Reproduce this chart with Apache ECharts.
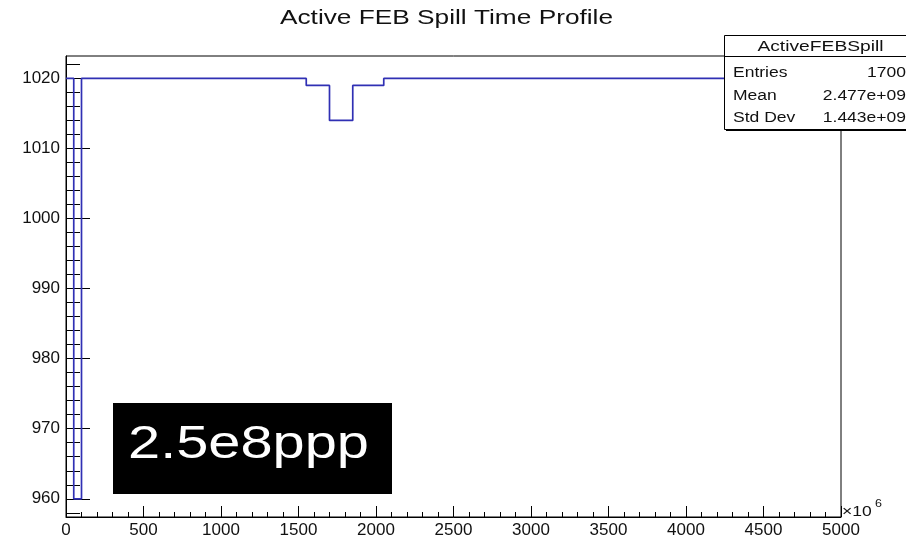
<!DOCTYPE html>
<html>
<head>
<meta charset="utf-8">
<script src="https://cdn.jsdelivr.net/npm/echarts@6/dist/echarts.min.js"></script>
<style>
  html, body { margin: 0; padding: 0; background: #fff; }
  #chart { width: 906px; height: 543px; }
</style>
</head>
<body>
<div id="chart"></div>
<script>
// Profile of active FEB count per spill time bin (x in units of 1e6)
const chartTitle = 'Active FEB Spill Time Profile';
const histName = 'ActiveFEBSpill';
const binStart = 0;
const binWidth = 50;
const binValues = [
  1020, 960, 1020, 1020, 1020, 1020, 1020, 1020, 1020, 1020,
  1020, 1020, 1020, 1020, 1020, 1020, 1020, 1020, 1020, 1020,
  1020, 1020, 1020, 1020, 1020, 1020, 1020, 1020, 1020, 1020,
  1020, 1019, 1019, 1019, 1014, 1014, 1014, 1019, 1019, 1019,
  1019, 1020, 1020, 1020, 1020, 1020, 1020, 1020, 1020, 1020,
  1020, 1020, 1020, 1020, 1020, 1020, 1020, 1020, 1020, 1020,
  1020, 1020, 1020, 1020, 1020, 1020, 1020, 1020, 1020, 1020,
  1020, 1020, 1020, 1020, 1020, 1020, 1020, 1020, 1020, 1020,
  1020, 1020, 1020, 1020, 1020, 1020, 1020, 1020, 1020, 1020,
  1020, 1020, 1020, 1020, 1020, 1020, 1020, 1020, 1020, 1020
];
const statsLabels = ['Entries', 'Mean', 'Std Dev'];
const statsValues = ['1700', '2.477e+09', '1.443e+09'];
const yMajorTicks = [960, 970, 980, 990, 1000, 1010, 1020];
const yMinorTicks = [958, 962, 964, 966, 968, 972, 974, 976, 978, 982, 984, 986, 988,
  992, 994, 996, 998, 1002, 1004, 1006, 1008, 1012, 1014, 1016, 1018, 1022];
const xTickStep = 500;
const xRange = [0, 5000];
const yRange = [957.4, 1023.2];
const beamLabel = '2.5e8ppp';

// Histogram outline: one horizontal segment per bin, joined by vertical steps
const outline = [];
binValues.forEach((v, i) => {
  const lo = binStart + i * binWidth;
  outline.push([lo, v], [lo + binWidth, v]);
});

const FONT = '"Liberation Sans", Arial, Helvetica, sans-serif';
const STRETCH = 1.25;

function txt(x, y, text, size, align, fill, scale) {
  return {
    type: 'text', x: x, y: y, scaleX: scale || STRETCH, z: 120,
    style: {
      text: text, x: 0, y: 0, fill: fill || '#111',
      font: size + 'px ' + FONT, align: align, verticalAlign: 'middle'
    }
  };
}

const plain = (v) => String(v);
const labelStyle = { fontFamily: FONT, fontSize: 17, color: '#111', formatter: plain };

const chart = echarts.init(document.getElementById('chart'), null, { renderer: 'canvas' });
chart.setOption({
  animation: false,
  backgroundColor: '#fff',
  grid: {
    left: 66, top: 56, width: 775, height: 461,
    show: true, borderColor: '#000', borderWidth: 1, backgroundColor: 'transparent'
  },
  xAxis: {
    type: 'value', min: xRange[0], max: xRange[1], interval: xTickStep,
    axisLine: { show: true, lineStyle: { color: '#000', width: 1 } },
    axisTick: { show: true, inside: true, length: 11, lineStyle: { color: '#000', width: 1 } },
    minorTick: { show: true, splitNumber: 5, length: 5, lineStyle: { color: '#000', width: 1 } },
    splitLine: { show: false },
    axisLabel: Object.assign({ margin: 5, showMinLabel: true, showMaxLabel: true, hideOverlap: false }, labelStyle)
  },
  yAxis: [
    {
      type: 'value', min: yRange[0], max: yRange[1], position: 'left',
      axisLine: { show: true, lineStyle: { color: '#000', width: 1 } },
      axisTick: { show: true, inside: true, length: 24, customValues: yMajorTicks,
        lineStyle: { color: '#000', width: 1 } },
      splitLine: { show: false },
      axisLabel: Object.assign({ margin: 6, customValues: yMajorTicks }, labelStyle)
    },
    {
      type: 'value', min: yRange[0], max: yRange[1], position: 'left', offset: 0,
      axisLine: { show: false },
      axisTick: { show: true, inside: true, length: 14, customValues: yMinorTicks,
        lineStyle: { color: '#000', width: 1 } },
      splitLine: { show: false },
      axisLabel: { show: false }
    }
  ],
  series: [{
    type: 'line', name: histName, data: outline, xAxisIndex: 0, yAxisIndex: 0,
    showSymbol: false, symbol: 'none', clip: true, z: 3,
    lineStyle: { color: '#3030b4', width: 1.7 }
  }],
  graphic: [
    // title
    txt(446.5, 18, chartTitle, 21, 'center', '#111'),
    // statistics box with shadow
    { type: 'rect', z: 110, shape: { x: 726, y: 37, width: 200, height: 94 }, style: { fill: '#000' } },
    { type: 'rect', z: 111, shape: { x: 724.5, y: 35.5, width: 200, height: 94 },
      style: { fill: '#fff', stroke: '#000', lineWidth: 1 } },
    { type: 'line', z: 112, shape: { x1: 724.5, y1: 56.5, x2: 906, y2: 56.5 },
      style: { stroke: '#000', lineWidth: 1 } },
    txt(820.5, 47, histName, 15.4, 'center'),
    txt(733, 73, statsLabels[0], 14, 'left'),
    txt(733, 96, statsLabels[1], 14, 'left'),
    txt(733, 118, statsLabels[2], 14, 'left'),
    txt(906, 73, statsValues[0], 14, 'right'),
    txt(906, 96, statsValues[1], 14, 'right'),
    txt(906, 118, statsValues[2], 14, 'right'),
    // axis exponent
    txt(842, 512, '\u00d710', 14, 'left'),
    txt(875, 504, '6', 10, 'left'),
    // beam intensity tag
    { type: 'rect', z: 115, shape: { x: 113, y: 403, width: 279, height: 91 }, style: { fill: '#000' } },
    txt(128, 445.5, beamLabel, 46.6, 'left', '#fff', 1.24)
  ]
});
</script>
</body>
</html>
